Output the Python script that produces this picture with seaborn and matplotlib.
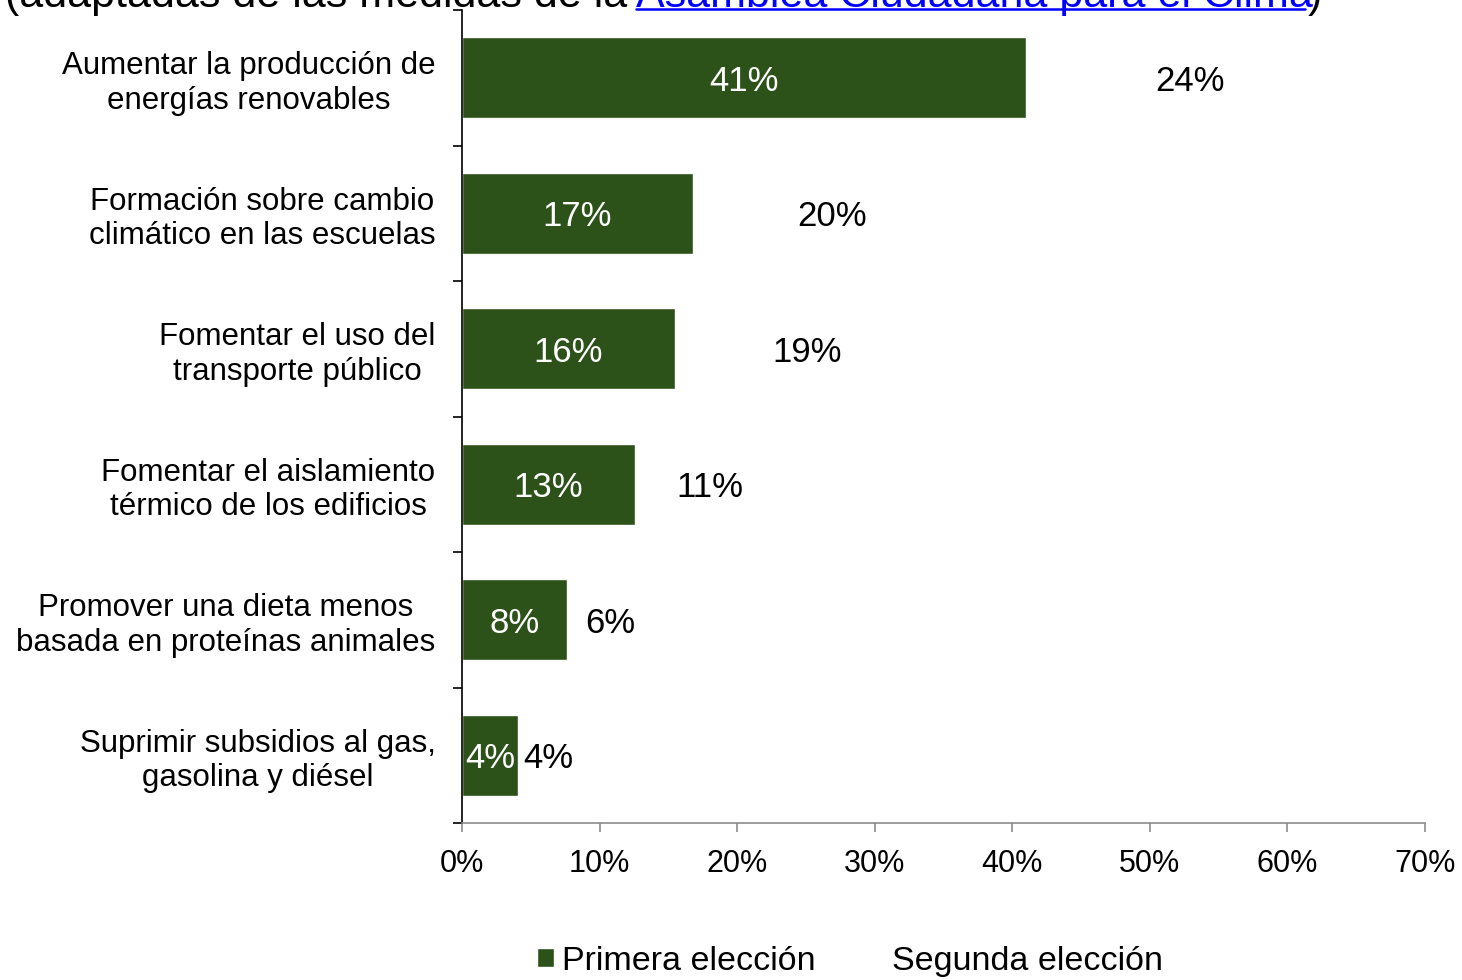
import matplotlib
matplotlib.use('Agg')
import matplotlib.pyplot as plt
import numpy as np
import pandas as pd
import seaborn as sns

categories = ['Aumentar la producción de\nenergías renovables',
              'Formación sobre cambio\nclimático en las escuelas',
              'Fomentar el uso del\ntransporte público',
              'Fomentar el aislamiento\ntérmico de los edificios',
              'Promover una dieta menos\nbasada en proteínas animales',
              'Suprimir subsidios al gas,\ngasolina y diésel']
primera = [41.0, 16.8, 15.5, 12.6, 7.6, 4.1]
segunda = [23.8, 20.2, 19.2, 10.8, 6.3, 4.4]
primera_labels = ['41%', '17%', '16%', '13%', '8%', '4%']
segunda_labels = ['24%', '20%', '19%', '11%', '6%', '4%']
xticks = [0, 10, 20, 30, 40, 50, 60, 70]

df = pd.DataFrame({'medida': categories, 'primera': primera, 'segunda': segunda})
df['total'] = df['primera'] + df['segunda']

sns.set_style('white')
plt.rcParams['font.family'] = ['Liberation Sans', 'DejaVu Sans']
plt.rcParams['text.color'] = 'black'

green = '#2C5119'
fig = plt.figure(figsize=(14.62, 9.8), dpi=100)
ax = fig.add_axes([462 / 1462, 1 - 823 / 980, (1425 - 462) / 1462, (823 - 10) / 980])

# stacked: white "segunda" bar behind, green "primera" on top
sns.barplot(data=df, y='medida', x='total', orient='h', color='white',
            width=0.6, saturation=1, ax=ax, label='Segunda elección', zorder=1)
sns.barplot(data=df, y='medida', x='primera', orient='h', color=green,
            width=0.6, saturation=1, ax=ax, label='Primera elección', zorder=2)
if ax.get_legend() is not None:
    ax.get_legend().remove()

for i, (p, s) in enumerate(zip(primera, segunda)):
    ax.text(p / 2, i, primera_labels[i], ha='center', va='center_baseline',
            fontsize=25, color='white', zorder=3)
    ax.text(p + s / 2, i, segunda_labels[i], ha='center', va='center_baseline',
            fontsize=25, color='black', zorder=3)

ax.set_xlim(0, 70)
ax.set_ylim(5.5, -0.5)
ax.set_xticks(xticks)
ax.set_xticklabels([f'{t}%' for t in xticks], fontsize=22)
ax.set_xlabel('')
ax.set_ylabel('')
ax.set_yticks(range(len(categories)))
ax.set_yticklabels(categories, fontsize=22.5, multialignment='center')
ax.set_yticks(np.arange(-0.5, len(categories), 1), minor=True)
ax.tick_params(axis='y', which='major', length=0, pad=19, labelcolor='black')
ax.tick_params(axis='y', which='minor', length=6.5, width=1.2, color='black', direction='out', left=True)
ax.tick_params(axis='x', length=6.5, width=1.2, color='#8c8c8c', direction='out', bottom=True,
               pad=12, labelcolor='black')

for side in ['top', 'right']:
    ax.spines[side].set_visible(False)
ax.spines['left'].set_color('black')
ax.spines['left'].set_linewidth(1.2)
ax.spines['bottom'].set_color('#8c8c8c')
ax.spines['bottom'].set_linewidth(1.2)

handles, labels = ax.get_legend_handles_labels()
order = [labels.index('Primera elección'), labels.index('Segunda elección')]
fig.legend([handles[k] for k in order], [labels[k] for k in order],
           loc='center', bbox_to_anchor=(850 / 1462, 1 - 961 / 980), ncol=2,
           frameon=False, fontsize=24.5, handlelength=0.5, handleheight=0.5,
           handletextpad=0.25, columnspacing=1.5, labelcolor='black')

# cut-off subtitle at the top
base_y = 1 - 7 / 980
fig.text(5 / 1462, base_y, '(adaptadas de las medidas de la ', fontsize=31,
         va='baseline', ha='left', color='black')
fig.text(636 / 1462, base_y, 'Asamblea Ciudadana para el Clima', fontsize=31,
         va='baseline', ha='left', color='#0000FF')
fig.add_artist(plt.Line2D([636 / 1462, 1305 / 1462], [1 - 9 / 980, 1 - 9 / 980],
                          color='#0000FF', lw=1.8, transform=fig.transFigure))
fig.text(1308 / 1462, base_y, ')', fontsize=31, va='baseline', ha='left', color='black')

fig.savefig('out.png', dpi=100)
